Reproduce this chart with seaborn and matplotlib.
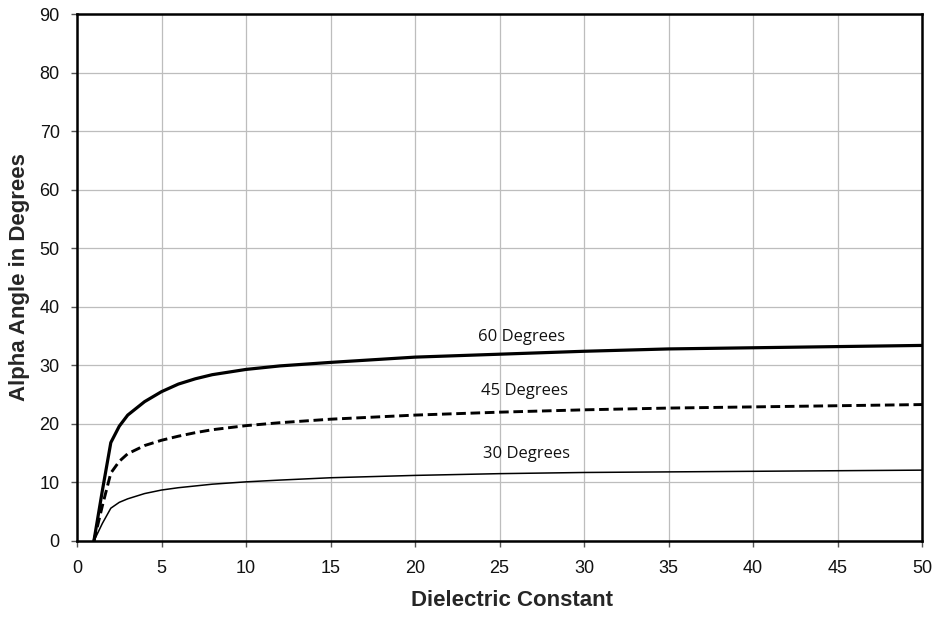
import matplotlib
matplotlib.use("Agg")
import matplotlib.pyplot as plt
import seaborn as sns
import pandas as pd

# Dielectric constant samples and the alpha angle for each incidence angle
dielectric = [1, 1.5, 2, 2.5, 3, 4, 5, 6, 7, 8, 10, 12, 15, 20, 25, 30, 35, 40, 45, 50]
alpha_60 = [0, 8.6, 16.8, 19.6, 21.5, 23.8, 25.5, 26.8, 27.7, 28.4, 29.3, 29.9, 30.5,
            31.4, 31.9, 32.4, 32.8, 33.0, 33.2, 33.4]
alpha_45 = [0, 6.0, 11.6, 13.6, 14.9, 16.3, 17.2, 17.9, 18.5, 19.0, 19.7, 20.2, 20.8,
            21.5, 22.0, 22.4, 22.7, 22.9, 23.1, 23.3]
alpha_30 = [0, 3.0, 5.6, 6.6, 7.2, 8.1, 8.7, 9.1, 9.4, 9.7, 10.1, 10.4, 10.8,
            11.2, 11.5, 11.7, 11.8, 11.9, 12.0, 12.1]

series_names = ["60 Degrees", "45 Degrees", "30 Degrees"]
label_pos = [(26.3, 34.8), (26.5, 25.7), (26.6, 14.9)]

x_ticks = [0, 5, 10, 15, 20, 25, 30, 35, 40, 45, 50]
y_ticks = [0, 10, 20, 30, 40, 50, 60, 70, 80, 90]

sns.set_theme(style="white")
plt.rcParams["font.family"] = ["Liberation Sans", "DejaVu Sans"]

fig = plt.figure(figsize=(9.38, 6.17), dpi=100)
ax = fig.add_axes([0.0821, 0.1232, 0.9009, 0.8541])

frames = []
for name, vals in zip(series_names, [alpha_60, alpha_45, alpha_30]):
    frames.append(pd.DataFrame({"Dielectric Constant": dielectric,
                                "Alpha": vals, "Series": name}))
df = pd.concat(frames, ignore_index=True)

styles = {
    "60 Degrees": dict(lw=2.3, ls="-"),
    "45 Degrees": dict(lw=2.1, ls=(0, (3.3, 1.6))),
    "30 Degrees": dict(lw=1.1, ls="-"),
}
for name in series_names:
    sub = df[df["Series"] == name]
    sns.lineplot(data=sub, x="Dielectric Constant", y="Alpha", ax=ax,
                 color="black", linewidth=styles[name]["lw"],
                 linestyle=styles[name]["ls"], estimator=None, sort=False)

for name, (lx, ly) in zip(series_names, label_pos):
    ax.text(lx, ly, name, ha="center", va="center", fontsize=12,
            family=["Open Sans", "DejaVu Sans"], color="#111111")

ax.set_xlim(0, 50)
ax.set_ylim(0, 90)
ax.set_xticks(x_ticks)
ax.set_yticks(y_ticks)
ax.grid(True, color="#bdbdbd", linewidth=0.9)
ax.set_axisbelow(True)
for sp in ax.spines.values():
    sp.set_visible(True)
    sp.set_color("black")
    sp.set_linewidth(1.8)

ax.tick_params(axis="both", which="major", direction="out", length=4.5,
               width=1, color="#555555", labelsize=13, labelcolor="#111111",
               bottom=True, left=True)
ax.tick_params(axis="x", pad=9)
ax.tick_params(axis="y", pad=8)

ax.set_xlabel("Dielectric Constant", fontsize=16, fontweight="bold")
ax.set_ylabel("Alpha Angle in Degrees", fontsize=16, fontweight="bold")
ax.xaxis.set_label_coords(0.515, -0.093)
ax.yaxis.set_label_coords(-0.056, 0.5)

fig.savefig("out.png", dpi=100, facecolor="white")
